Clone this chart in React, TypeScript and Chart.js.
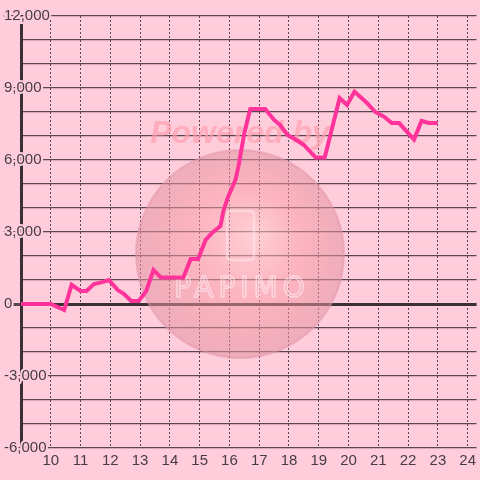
import { useEffect, useRef } from 'react';
import { Chart, registerables } from 'chart.js';

Chart.register(...registerables);

// Data (x in hours, y in value)
const hours = [
  9, 10, 10.45, 10.7, 11, 11.2, 11.45, 11.7, 11.95, 12.25, 12.45, 12.7, 12.95, 13.2, 13.45, 13.7,
  14.45, 14.7, 14.95, 15.2, 15.45, 15.7, 15.8, 15.95, 16.2, 16.3, 16.5, 16.7, 17.2, 17.5, 17.7,
  17.95, 18.25, 18.5, 18.9, 19.2, 19.7, 19.95, 20.2, 20.6, 20.9, 21.2, 21.45, 21.7, 22.2, 22.45,
  22.7, 23,
];
const values = [
  0, 0, -250, 800, 540, 540, 830, 900, 1000, 580, 420, 125, 125, 520, 1420, 1100,
  1100, 1875, 1875, 2670, 3000, 3250, 3900, 4450, 5170, 5710, 7125, 8125, 8125, 7670, 7460,
  7040, 6830, 6625, 6100, 6100, 8580, 8290, 8850, 8400, 8000, 7800, 7540, 7540, 6850, 7625,
  7540, 7540,
];
const xTickValues = [10, 11, 12, 13, 14, 15, 16, 17, 18, 19, 20, 21, 22, 23, 24];
const yTickValues = [
  -6000, -5000, -4000, -3000, -2000, -1000, 0, 1000, 2000, 3000, 4000, 5000, 6000, 7000, 8000,
  9000, 10000, 11000, 12000,
];
const yLabelStep = 3000;

const BG = '#ffccdb';
const TEXT = '#463c42';
const GRID = '#5a4552';
const AXIS = '#3a3035';
const LINE = '#ff3399';
const FONT = '"Liberation Sans", Arial, sans-serif';

const watermark = {
  id: 'watermark',
  beforeDatasetsDraw(chart: any) {
    const ctx = chart.ctx as CanvasRenderingContext2D;
    ctx.save();
    const cx = 240, cy = 254, r = 104;
    const g = ctx.createRadialGradient(cx + 15, cy - 20, 5, cx, cy, r);
    g.addColorStop(0, 'rgba(255,205,205,0.55)');
    g.addColorStop(0.5, 'rgba(248,155,165,0.5)');
    g.addColorStop(1, 'rgba(225,145,160,0.55)');
    ctx.beginPath();
    ctx.arc(cx, cy, r, 0, Math.PI * 2);
    ctx.fillStyle = g;
    ctx.fill();
    ctx.lineWidth = 2;
    ctx.strokeStyle = 'rgba(225,150,170,0.5)';
    ctx.stroke();
    // phone icon
    ctx.strokeStyle = 'rgba(255,235,240,0.5)';
    ctx.lineWidth = 2.5;
    ctx.beginPath();
    (ctx as any).roundRect(227, 211, 27, 49, 4);
    ctx.stroke();
    // PAPIMO
    ctx.font = `28px "DejaVu Sans", sans-serif`;
    (ctx as any).letterSpacing = '5px';
    ctx.textAlign = 'center';
    ctx.textBaseline = 'middle';
    ctx.lineWidth = 1.5;
    ctx.strokeStyle = 'rgba(255,240,245,0.55)';
    ctx.strokeText('PAPIMO', 242, 290);
    (ctx as any).letterSpacing = '0px';
    // Powered by
    ctx.font = `italic bold 32px ${FONT}`;
    ctx.fillStyle = 'rgba(255,160,175,0.7)';
    ctx.fillText('Powered by', 240, 134);
    ctx.restore();
  },
};

export default function App() {
  const ref = useRef<HTMLCanvasElement>(null);

  useEffect(() => {
    if (!ref.current) return;
    const chart = new Chart(ref.current, {
      type: 'line',
      data: {
        datasets: [
          {
            data: hours.map((h, i) => ({ x: h, y: values[i] })),
            borderColor: LINE,
            borderWidth: 4,
            pointRadius: 0,
            tension: 0,
            fill: false,
          },
        ],
      },
      options: {
        animation: false,
        responsive: false,
        layout: { padding: { left: 3, top: 16, right: 0, bottom: 0 } },
        plugins: { legend: { display: false }, tooltip: { enabled: false } },
        scales: {
          x: {
            type: 'linear',
            min: 9,
            max: 24.3,
            afterBuildTicks: (s: any) => {
              s.ticks = xTickValues.map((v) => ({ value: v }));
            },
            afterFit: (s: any) => {
              s.height = 32;
            },
            border: { display: false, dash: [2, 2] },
            grid: { color: GRID, lineWidth: 1, drawTicks: false },
            ticks: {
              color: TEXT,
              font: { family: FONT, size: 15 },
              padding: 4,
              maxRotation: 0,
              autoSkip: false,
            },
          },
          y: {
            type: 'linear',
            min: -6000,
            max: 12000,
            afterBuildTicks: (s: any) => {
              s.ticks = yTickValues.map((v) => ({ value: v }));
            },
            afterFit: (s: any) => {
              s.width = 18;
            },
            border: { display: true, color: AXIS, width: 3 },
            grid: {
              color: (c: any) => (c.tick && c.tick.value === 0 ? AXIS : GRID),
              lineWidth: (c: any) => (c.tick && c.tick.value === 0 ? 3 : 1.2),
              drawTicks: true,
              tickLength: 18,
              tickColor: (c: any) =>
                c.tick && c.tick.value % yLabelStep === 0 ? GRID : 'rgba(0,0,0,0)',
            },
            ticks: {
              mirror: true,
              padding: -17,
              color: TEXT,
              font: { family: FONT, size: 15 },
              textStrokeColor: BG,
              textStrokeWidth: 4,
              autoSkip: false,
              callback: (v: any) =>
                Number(v) % yLabelStep === 0 ? Number(v).toLocaleString('en-US') : '',
            },
          },
        },
      } as any,
      plugins: [watermark],
    });
    return () => chart.destroy();
  }, []);

  return (
    <div style={{ position: 'absolute', left: 0, top: 0, width: 480, height: 480, background: BG }}>
      <canvas ref={ref} width={480} height={480} style={{ display: 'block' }} />
    </div>
  );
}
